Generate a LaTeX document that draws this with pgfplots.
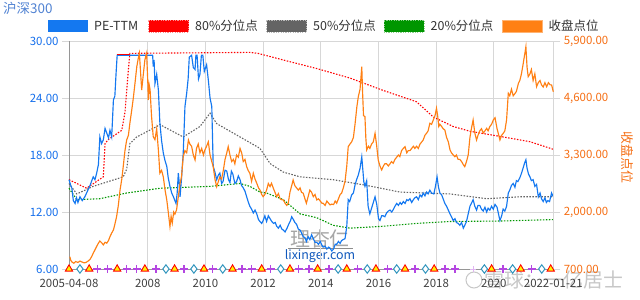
\documentclass[border=0pt]{standalone}
\usepackage{fontspec}
\setmainfont{Noto Sans CJK SC}
\usepackage{pgfplots}
\usepackage{pgfplotstable}
\pgfplotsset{compat=1.18}
\newcommand{\fs}[1]{\fontsize{#1}{#1}\selectfont}
\definecolor{peblue}{RGB}{20,120,240}
\definecolor{closeor}{RGB}{255,128,20}
\definecolor{pct80}{RGB}{255,0,0}
\definecolor{pct50}{RGB}{100,100,100}
\definecolor{pct20}{RGB}{0,150,0}
\definecolor{lblue}{RGB}{20,110,235}
\definecolor{rorange}{RGB}{245,110,20}
\definecolor{gridc}{RGB}{215,215,215}
\definecolor{axc}{RGB}{150,150,150}
\definecolor{mkpurple}{RGB}{180,70,225}
\definecolor{mkteal}{RGB}{50,150,190}
\definecolor{titleblue}{RGB}{80,130,210}

\pgfplotstableread{
x y
2005.27 15.4
2005.33 14.8
2005.37 14.5
2005.42 13.2
2005.48 12.9
2005.53 13.5
2005.58 13.0
2005.65 13.6
2005.73 13.2
2005.82 13.6
2005.91 14.2
2006.00 14.8
2006.06 15.3
2006.11 15.7
2006.17 15.4
2006.23 16.1
2006.29 17.0
2006.34 19.9
2006.40 19.2
2006.46 19.6
2006.52 20.8
2006.58 20.3
2006.64 19.8
2006.69 20.6
2006.75 19.9
2006.81 23.8
2006.86 24.2
2006.90 26.5
2006.94 28.5
2008.17 28.5
2008.19 27.3
2008.22 28.0
2008.25 25.5
2008.31 26.5
2008.37 24.8
2008.42 21.4
2008.48 19.5
2008.54 18.2
2008.60 17.4
2008.66 16.8
2008.71 15.6
2008.77 14.7
2008.83 14.0
2008.89 13.6
2008.98 12.9
2009.02 14.0
2009.06 16.1
2009.10 14.8
2009.12 13.6
2009.17 15.5
2009.23 18.2
2009.29 23.1
2009.35 24.5
2009.40 26.0
2009.44 28.3
2009.52 28.5
2009.58 27.2
2009.64 27.0
2009.67 28.5
2009.71 28.5
2009.76 26.0
2009.81 26.5
2009.86 28.5
2009.91 28.5
2009.96 26.8
2010.04 27.5
2010.10 25.9
2010.16 24.0
2010.22 23.1
2010.27 16.8
2010.33 16.2
2010.39 15.4
2010.45 15.9
2010.50 16.1
2010.56 15.0
2010.61 15.2
2010.68 16.4
2010.74 16.3
2010.80 15.4
2010.85 15.1
2010.90 16.3
2010.95 16.0
2011.02 15.0
2011.08 15.2
2011.14 15.8
2011.20 15.4
2011.25 14.8
2011.30 14.6
2011.37 14.2
2011.43 13.6
2011.48 13.1
2011.54 12.6
2011.60 12.3
2011.66 11.9
2011.72 12.2
2011.78 11.8
2011.84 11.2
2011.89 11.0
2011.95 10.8
2012.00 11.1
2012.06 11.6
2012.12 11.0
2012.18 11.6
2012.24 11.3
2012.30 11.0
2012.36 10.8
2012.42 10.9
2012.47 10.5
2012.53 10.3
2012.59 10.6
2012.65 10.2
2012.70 10.1
2012.76 9.9
2012.83 10.3
2012.90 10.8
2012.95 11.1
2012.99 11.5
2013.05 11.2
2013.10 10.9
2013.16 10.7
2013.22 10.2
2013.28 10.1
2013.33 9.8
2013.39 9.4
2013.45 9.3
2013.50 8.9
2013.56 9.4
2013.62 9.1
2013.68 9.6
2013.74 9.2
2013.80 8.8
2013.86 8.8
2013.92 8.6
2013.98 8.9
2014.04 8.5
2014.08 8.3
2014.15 8.4
2014.21 8.1
2014.27 8.3
2014.32 8.2
2014.38 7.9
2014.44 8.1
2014.50 8.6
2014.55 8.6
2014.61 8.9
2014.67 8.7
2014.72 9.0
2014.78 9.1
2014.84 9.2
2014.90 10.5
2014.95 13.3
2015.00 13.1
2015.07 13.8
2015.13 14.0
2015.19 14.9
2015.24 15.4
2015.30 15.9
2015.36 16.6
2015.42 17.8
2015.45 16.7
2015.49 15.2
2015.53 14.7
2015.59 15.3
2015.64 12.6
2015.70 11.8
2015.76 12.4
2015.82 13.0
2015.88 13.6
2015.94 12.8
2016.00 11.3
2016.05 11.1
2016.11 11.6
2016.16 11.6
2016.22 11.5
2016.28 11.9
2016.34 12.1
2016.40 12.2
2016.46 12.0
2016.52 12.3
2016.57 12.6
2016.63 12.9
2016.69 12.7
2016.75 13.0
2016.80 12.8
2016.86 13.1
2016.92 12.9
2016.98 13.3
2017.03 13.2
2017.09 13.4
2017.15 13.0
2017.21 13.3
2017.26 13.5
2017.32 13.6
2017.38 13.3
2017.44 13.8
2017.50 13.6
2017.55 14.0
2017.61 13.7
2017.67 14.1
2017.72 13.9
2017.78 14.3
2017.84 14.0
2017.92 13.9
2017.98 14.8
2018.03 15.7
2018.08 14.6
2018.13 14.0
2018.19 13.8
2018.24 13.4
2018.30 12.9
2018.36 12.6
2018.42 12.2
2018.48 11.8
2018.53 11.5
2018.59 11.1
2018.65 11.3
2018.70 10.9
2018.76 10.8
2018.82 10.6
2018.88 10.9
2018.94 10.3
2018.99 10.6
2019.05 11.0
2019.11 11.8
2019.17 12.6
2019.22 12.9
2019.28 13.3
2019.34 12.6
2019.40 12.2
2019.45 12.7
2019.51 12.7
2019.57 12.3
2019.63 12.1
2019.69 12.5
2019.75 12.0
2019.80 12.4
2019.86 12.2
2019.92 12.6
2019.98 12.3
2020.04 12.8
2020.11 12.5
2020.16 11.8
2020.21 11.1
2020.27 11.6
2020.32 12.3
2020.38 12.1
2020.44 12.6
2020.50 14.0
2020.55 14.3
2020.61 14.8
2020.67 15.0
2020.73 14.6
2020.78 15.3
2020.83 15.2
2020.90 15.6
2020.96 16.1
2021.02 16.7
2021.07 17.2
2021.11 17.5
2021.15 16.6
2021.20 16.0
2021.25 15.7
2021.30 15.3
2021.36 15.4
2021.42 14.7
2021.48 14.9
2021.54 13.6
2021.60 14.0
2021.65 13.4
2021.71 13.1
2021.77 13.5
2021.82 13.0
2021.87 13.2
2021.93 13.1
2022.00 14.0
2022.06 13.6
}\pedata

\pgfplotstableread{
x y
2005.27 15.4
2005.88 14.5
2006.46 15.7
2006.52 19.2
2006.62 19.6
2007.10 20.6
2007.21 22.5
2007.33 27.0
2007.38 28.7
2011.54 28.8
2011.82 28.7
2012.70 28.0
2013.86 27.1
2015.01 26.1
2016.16 24.8
2017.32 23.6
2017.90 22.0
2018.59 21.0
2019.17 20.5
2020.32 19.9
2021.25 19.4
2022.06 18.6
}\pctA

\pgfplotstableread{
x y
2005.27 15.0
2005.54 13.9
2006.11 14.7
2007.15 15.7
2007.27 16.5
2007.38 19.2
2007.62 19.9
2008.31 21.0
2008.42 21.2
2009.23 19.9
2009.81 21.0
2010.16 22.4
2010.39 21.3
2011.20 19.9
2011.89 18.7
2012.24 17.1
2012.70 16.2
2013.28 15.7
2014.43 15.4
2015.59 14.8
2016.74 14.1
2018.48 13.9
2019.75 13.4
2020.90 13.6
2022.06 13.6
}\pctB

\pgfplotstableread{
x y
2005.27 14.5
2005.54 13.3
2006.34 13.4
2007.27 14.0
2008.42 14.5
2010.16 14.7
2011.20 15.0
2011.54 14.7
2011.89 14.1
2012.12 14.0
2012.70 13.3
2013.28 11.8
2013.86 11.4
2014.43 10.6
2015.01 10.3
2016.16 10.5
2017.32 10.8
2018.48 11.0
2020.21 11.05
2022.06 11.2
}\pctC

\pgfplotstableread{
x y
2005.30 982
2005.33 900
2005.37 860
2005.44 831
2005.50 870
2005.58 850
2005.65 880
2005.72 860
2005.80 840
2005.86 850
2005.93 880
2006.00 920
2006.06 990
2006.11 1060
2006.18 1150
2006.24 1230
2006.29 1288
2006.34 1340
2006.40 1300
2006.46 1250
2006.52 1310
2006.58 1290
2006.64 1350
2006.69 1438
2006.75 1520
2006.81 1591
2006.86 1720
2006.92 1894
2006.98 2150
2007.04 2503
2007.10 2750
2007.15 3034
2007.21 3400
2007.27 3643
2007.33 3750
2007.38 4024
2007.44 4300
2007.50 4600
2007.56 4950
2007.62 5314
2007.67 5500
2007.71 5620
2007.75 5200
2007.79 4783
2007.84 5100
2007.90 5467
2007.96 5620
2008.00 5000
2008.02 4555
2008.05 4900
2008.08 4800
2008.13 4200
2008.19 3718
2008.25 3650
2008.31 3900
2008.37 3400
2008.42 2884
2008.48 2950
2008.54 2800
2008.60 2500
2008.66 2275
2008.72 1950
2008.77 1666
2008.81 1900
2008.85 1750
2008.90 2000
2008.94 1950
2009.00 2050
2009.06 2350
2009.12 2650
2009.17 2800
2009.23 3262
2009.29 3400
2009.35 3350
2009.41 3643
2009.46 3550
2009.52 3500
2009.58 3300
2009.64 3187
2009.69 3450
2009.75 3550
2009.81 3350
2009.87 3450
2009.93 3300
2009.98 3415
2010.04 3500
2010.10 3600
2010.16 3300
2010.22 3150
2010.27 3034
2010.33 2750
2010.39 2578
2010.45 2700
2010.50 2800
2010.56 2750
2010.62 2950
2010.68 3200
2010.74 3350
2010.79 3490
2010.85 3300
2010.91 3150
2010.97 3200
2011.02 3100
2011.08 3300
2011.14 3250
2011.20 3450
2011.26 3340
2011.31 3150
2011.37 3200
2011.43 3034
2011.48 2950
2011.54 2884
2011.60 2700
2011.66 2884
2011.72 2750
2011.78 2656
2011.84 2550
2011.89 2503
2011.95 2400
2012.00 2350
2012.06 2400
2012.12 2500
2012.18 2650
2012.24 2580
2012.29 2656
2012.35 2550
2012.41 2450
2012.47 2350
2012.53 2420
2012.59 2300
2012.65 2280
2012.70 2275
2012.76 2200
2012.82 2150
2012.87 2200
2012.93 2450
2012.99 2600
2013.04 2731
2013.10 2600
2013.16 2550
2013.22 2500
2013.28 2550
2013.33 2450
2013.39 2428
2013.45 2300
2013.50 2200
2013.56 2350
2013.62 2500
2013.68 2450
2013.74 2350
2013.80 2400
2013.86 2275
2013.92 2300
2013.98 2250
2014.04 2200
2014.08 2200
2014.15 2150
2014.21 2250
2014.27 2200
2014.32 2161
2014.38 2180
2014.44 2170
2014.50 2250
2014.55 2200
2014.61 2300
2014.67 2400
2014.72 2428
2014.78 2550
2014.84 2700
2014.90 3050
2014.95 3490
2015.01 3550
2015.07 3600
2015.13 3700
2015.19 4024
2015.25 4400
2015.30 4630
2015.36 4800
2015.42 5314
2015.45 4700
2015.48 4200
2015.53 4174
2015.56 3700
2015.59 3415
2015.65 3500
2015.70 3450
2015.76 3550
2015.82 3600
2015.88 3796
2015.93 3550
2015.99 3187
2016.05 3050
2016.11 2959
2016.17 3050
2016.22 3100
2016.28 3100
2016.34 3050
2016.40 3100
2016.45 3150
2016.51 3112
2016.57 3200
2016.63 3250
2016.69 3300
2016.74 3262
2016.80 3400
2016.86 3450
2016.92 3490
2016.98 3350
2017.03 3400
2017.09 3400
2017.15 3450
2017.21 3500
2017.26 3450
2017.32 3500
2017.38 3450
2017.44 3550
2017.50 3600
2017.55 3643
2017.61 3750
2017.67 3800
2017.72 3850
2017.78 4024
2017.84 4000
2017.90 4100
2017.96 4200
2018.01 4366
2018.05 4200
2018.09 3950
2018.13 4000
2018.19 3950
2018.24 3900
2018.30 3871
2018.36 3700
2018.42 3600
2018.48 3415
2018.53 3350
2018.59 3300
2018.65 3262
2018.70 3300
2018.76 3200
2018.82 3200
2018.88 3150
2018.94 3080
2018.99 3034
2019.05 3150
2019.11 3300
2019.17 3700
2019.22 3900
2019.28 4099
2019.34 3800
2019.40 3643
2019.45 3750
2019.51 3850
2019.57 3900
2019.63 3800
2019.69 3850
2019.75 3909
2019.80 3850
2019.86 3950
2019.92 4000
2019.98 4099
2020.04 4150
2020.11 3900
2020.15 3800
2020.21 3643
2020.27 3750
2020.33 3800
2020.38 3850
2020.44 4100
2020.50 4708
2020.55 4650
2020.61 4800
2020.67 4650
2020.73 4700
2020.78 4750
2020.85 4936
2020.90 5000
2020.96 5164
2021.02 5400
2021.07 5600
2021.11 5770
2021.15 5300
2021.19 5086
2021.25 5150
2021.30 5250
2021.36 5000
2021.42 5150
2021.48 4858
2021.54 4950
2021.60 5000
2021.65 4900
2021.71 4850
2021.77 4950
2021.83 4858
2021.89 4950
2021.95 4900
2022.00 4900
2022.06 4744
}\closedata

\begin{document}
\begin{tikzpicture}
\path[use as bounding box] (0bp,0bp) rectangle (640bp,300bp);

% title
\node[anchor=west, inner sep=0pt, text=titleblue, font=\fs{13.5}] at (3bp,292bp) {沪深300};

% legend (manual)
\fill[peblue] (47.5bp,268bp) rectangle (87.5bp,280bp);
\node[anchor=west, inner sep=0pt, text=black!80, font=\fs{12.5}] at (94bp,274bp) {PE-TTM};
\fill[pct80] (148.5bp,268bp) rectangle (188.5bp,280bp);
\draw[pct80!45!white, line width=0.8bp, dash pattern=on 1.2bp off 1.2bp] (148.5bp,268bp) rectangle (188.5bp,280bp);
\node[anchor=west, inner sep=0pt, text=black!80, font=\fs{12.5}] at (195bp,274bp) {80\%分位点};
\fill[pct50] (266.5bp,268bp) rectangle (306.5bp,280bp);
\draw[pct50!45!white, line width=0.8bp, dash pattern=on 1.2bp off 1.2bp] (266.5bp,268bp) rectangle (306.5bp,280bp);
\node[anchor=west, inner sep=0pt, text=black!80, font=\fs{12.5}] at (313bp,274bp) {50\%分位点};
\fill[pct20] (384bp,268bp) rectangle (424bp,280bp);
\draw[pct20!45!white, line width=0.8bp, dash pattern=on 1.2bp off 1.2bp] (384bp,268bp) rectangle (424bp,280bp);
\node[anchor=west, inner sep=0pt, text=black!80, font=\fs{12.5}] at (430.5bp,274bp) {20\%分位点};
\fill[closeor] (502bp,268bp) rectangle (542bp,280bp);
\draw[closeor!60!white, line width=0.6bp] (502bp,268bp) rectangle (542bp,280bp);
\node[anchor=west, inner sep=0pt, text=black!80, font=\fs{12.5}] at (548.5bp,274bp) {收盘点位};

% watermarks
\node[text=black!35, font=\fs{20}] at (320bp,61bp) {理杏仁};
\draw[black!45, line width=0.6bp] (288bp,52bp) -- (353bp,52bp);
\node[text=lblue!80!black, font=\fs{12.5}] at (320bp,44bp) {lixinger.com};
\draw[black!22, line width=1bp] (474bp,20bp) circle (8bp);
\node[anchor=west, text=black!22, font=\fs{20}, inner sep=0pt] at (484bp,20bp) {雪球：一亿居士};

\begin{axis}[
  at={(69bp,31bp)}, anchor=south west,
  scale only axis, width=484.3bp, height=228bp,
  xmin=2005.27, xmax=2022.06, ymin=6, ymax=30,
  xtick={2005.27,2008,2010,2012,2014,2016,2018,2020,2022.06},
  xticklabels={2005-04-08,2008,2010,2012,2014,2016,2018,2020,2022-01-21},
  ytick={6,12,18,24,30},
  yticklabels={6.00,12.00,18.00,24.00,30.00},
  grid=major, major grid style={gridc, line width=0.8bp},
  axis x line*=bottom, axis y line*=left,
  axis line style={axc, -, line width=0.8bp},
  tick align=outside, major tick length=7bp,
  x tick style={draw=none},
  y tick style={gridc, line width=0.8bp},
  yticklabel style={text=lblue, font=\fs{11.5}},
  xticklabel style={text=black!75, font=\fs{11.5}},
  /pgf/number format/assume math mode=true,
  clip=false,
]
\addplot[pct80, line width=1.1bp, dash pattern=on 1.5bp off 1.5bp] table {\pctA};
\addplot[pct50, line width=1.1bp, dash pattern=on 1.5bp off 1.5bp] table {\pctB};
\addplot[pct20, line width=1.1bp, dash pattern=on 1.5bp off 1.5bp] table {\pctC};
\addplot[peblue, line width=1.15bp] table {\pedata};
\addplot[pct80, line width=1.1bp] coordinates {(2006.94,28.55) (2007.38,28.55)};
\end{axis}

\begin{axis}[
  at={(69bp,31bp)}, anchor=south west,
  scale only axis, width=484.3bp, height=228bp,
  xmin=2005.27, xmax=2022.06, ymin=700, ymax=5900,
  axis x line=none, axis y line*=right,
  axis line style={gridc, -, line width=0.8bp},
  ytick={700,2000,3300,4600,5900},
  yticklabels={700.00,{2,000.00},{3,300.00},{4,600.00},{5,900.00}},
  tick align=outside, major tick length=7bp,
  y tick style={gridc, line width=0.8bp},
  yticklabel style={text=rorange, font=\fs{11.5}},
  /pgf/number format/assume math mode=true,
  clip=false,
]
\addplot[closeor, line width=1.15bp] table {\closedata};
% event markers on the bottom edge
\addplot[only marks, mark=diamond*, mark size=4.2bp, mark options={draw=mkteal, fill=white, line width=1bp}] coordinates {
(2005.65,700) (2008.63,700) (2009.60,700) (2010.60,700) (2012.61,700) (2014.60,700)
(2015.61,700) (2016.63,700) (2017.63,700) (2019.67,700) (2020.65,700) (2021.66,700)};
\addplot[only marks, mark=+, mark size=4bp, mark options={draw=mkpurple, line width=1.4bp}] coordinates {
(2006.25,700) (2006.61,700) (2007.27,700) (2007.62,700) (2008.28,700) (2009.26,700)
(2010.25,700) (2011.27,700) (2011.60,700) (2012.26,700) (2013.23,700) (2013.59,700)
(2014.28,700) (2015.28,700) (2016.32,700) (2017.26,700) (2018.30,700) (2018.65,700)
(2020.32,700) (2021.31,700)};
\addplot[only marks, mark=+, mark size=2.8bp, mark options={draw=mkpurple!40, line width=1bp}] coordinates {(2019.28,700)};
\addplot[only marks, mark=triangle*, mark size=4.2bp, mark options={draw=red, fill=yellow, line width=0.9bp}] coordinates {
(2005.27,700) (2005.97,700) (2006.94,700) (2007.90,700) (2008.93,700) (2009.95,700)
(2010.94,700) (2011.95,700) (2012.93,700) (2013.89,700) (2014.90,700) (2015.91,700)
(2016.92,700) (2017.93,700) (2019.92,700) (2020.93,700) (2021.97,700)};
\node[rotate=-90, text=rorange, font=\fs{13}] at (axis description cs:1.154,0.49) {收盘点位};
\end{axis}
\end{tikzpicture}
\end{document}
